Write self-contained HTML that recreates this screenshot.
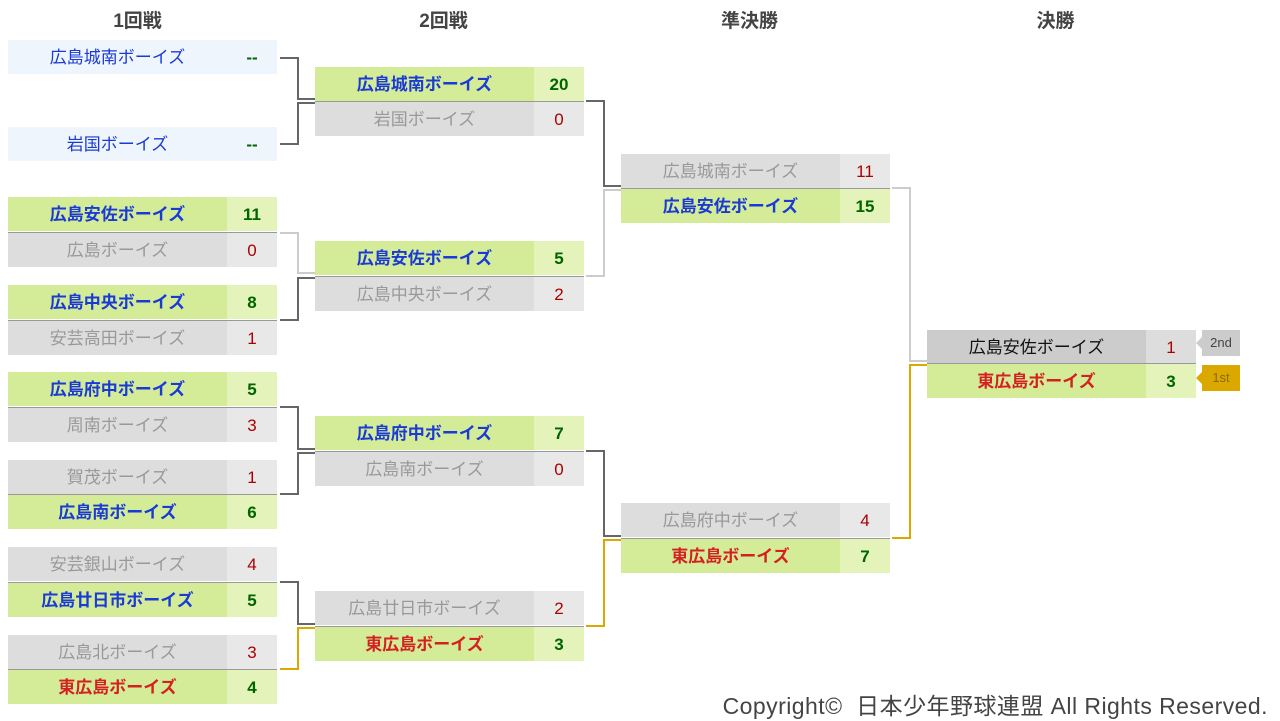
<!DOCTYPE html>
<html><head><meta charset="utf-8"><style>
body{margin:0;width:1280px;height:720px;background:#fff;position:relative;overflow:hidden;font-family:"Liberation Sans","Noto Sans CJK JP",sans-serif}
.r{position:absolute;height:34px;width:269px;display:flex;font-size:17px;line-height:36px}
.r .n{width:219px;text-align:center}
.r .s{width:50px;text-align:center}
.w .n{background:#d4ec98;color:#1a3ad6;font-weight:bold}
.w .s{background:#e3f3b9;color:#006400;font-weight:bold}
.l .n{background:#ddd;color:#999}
.l .s{background:#e8e8e8;color:#a00}
.b .n{background:#eef5fd;color:#1a3ad6}
.b .s{background:#eef5fd;color:#006400;font-weight:bold}
.red .n{color:#d42020}
.sep{border-top:1px solid #999}
h3{position:absolute;top:6px;margin:0;font-size:19px;color:#444;width:269px;text-align:center}
.badge{position:absolute;font-size:13px;text-align:center;line-height:26px}
</style></head><body>
<h3 style="left:3px">1回戦</h3><h3 style="left:309px">2回戦</h3><h3 style="left:615px">準決勝</h3><h3 style="left:921px">決勝</h3>

<div class="r b" style="left:8px;top:40px"><div class="n">広島城南ボーイズ</div><div class="s">--</div></div>
<div class="r b" style="left:8px;top:127px"><div class="n">岩国ボーイズ</div><div class="s">--</div></div>
<div class="r w" style="left:8px;top:197px"><div class="n">広島安佐ボーイズ</div><div class="s">11</div></div>
<div class="r l sep" style="left:8px;top:232px"><div class="n">広島ボーイズ</div><div class="s">0</div></div>
<div class="r w" style="left:8px;top:285px"><div class="n">広島中央ボーイズ</div><div class="s">8</div></div>
<div class="r l sep" style="left:8px;top:320px"><div class="n">安芸高田ボーイズ</div><div class="s">1</div></div>
<div class="r w" style="left:8px;top:372px"><div class="n">広島府中ボーイズ</div><div class="s">5</div></div>
<div class="r l sep" style="left:8px;top:407px"><div class="n">周南ボーイズ</div><div class="s">3</div></div>
<div class="r l" style="left:8px;top:460px"><div class="n">賀茂ボーイズ</div><div class="s">1</div></div>
<div class="r w sep" style="left:8px;top:494px"><div class="n">広島南ボーイズ</div><div class="s">6</div></div>
<div class="r l" style="left:8px;top:547px"><div class="n">安芸銀山ボーイズ</div><div class="s">4</div></div>
<div class="r w sep" style="left:8px;top:582px"><div class="n">広島廿日市ボーイズ</div><div class="s">5</div></div>
<div class="r l" style="left:8px;top:635px"><div class="n">広島北ボーイズ</div><div class="s">3</div></div>
<div class="r w red sep" style="left:8px;top:669px"><div class="n">東広島ボーイズ</div><div class="s">4</div></div>

<div class="r w" style="left:315px;top:67px"><div class="n">広島城南ボーイズ</div><div class="s">20</div></div>
<div class="r l sep" style="left:315px;top:101px"><div class="n">岩国ボーイズ</div><div class="s">0</div></div>
<div class="r w" style="left:315px;top:241px"><div class="n">広島安佐ボーイズ</div><div class="s">5</div></div>
<div class="r l sep" style="left:315px;top:276px"><div class="n">広島中央ボーイズ</div><div class="s">2</div></div>
<div class="r w" style="left:315px;top:416px"><div class="n">広島府中ボーイズ</div><div class="s">7</div></div>
<div class="r l sep" style="left:315px;top:451px"><div class="n">広島南ボーイズ</div><div class="s">0</div></div>
<div class="r l" style="left:315px;top:591px"><div class="n">広島廿日市ボーイズ</div><div class="s">2</div></div>
<div class="r w red sep" style="left:315px;top:626px"><div class="n">東広島ボーイズ</div><div class="s">3</div></div>

<div class="r l" style="left:621px;top:154px"><div class="n">広島城南ボーイズ</div><div class="s">11</div></div>
<div class="r w sep" style="left:621px;top:188px"><div class="n">広島安佐ボーイズ</div><div class="s">15</div></div>
<div class="r l" style="left:621px;top:503px"><div class="n">広島府中ボーイズ</div><div class="s">4</div></div>
<div class="r w red sep" style="left:621px;top:538px"><div class="n">東広島ボーイズ</div><div class="s">7</div></div>

<div class="r" style="left:927px;top:330px"><div class="n" style="background:#ccc;color:#111">広島安佐ボーイズ</div><div class="s" style="background:#ddd;color:#a00">1</div></div>
<div class="r w red sep" style="left:927px;top:363px"><div class="n">東広島ボーイズ</div><div class="s">3</div></div>

<svg width="1280" height="720" style="position:absolute;left:0;top:0" fill="none" stroke-width="2">
<g stroke="#666">
<path d="M280 58H298V99H315M280 144H298V103H315"/>
<path d="M280 320H298V278H315"/>
<path d="M280 407H298V449H315M280 494H298V453H315"/>
<path d="M280 582H298V624H315"/>
<path d="M586 101H604V186H621"/>
<path d="M586 451H604V536H621"/>
</g>
<g stroke="#ccc">
<path d="M280 233H298V273H315"/>
<path d="M586 276H604V190H621"/>
<path d="M892 188H910V361H927"/>
</g>
<g stroke="#dba800">
<path d="M280 669H298V628H315"/>
<path d="M586 626H604V540H621"/>
<path d="M892 538H910V365H927"/>
</g>
</svg>
<div class="badge" style="left:1202px;top:330px;width:38px;height:26px;background:#ccc;color:#444">2nd</div>
<div style="position:absolute;left:1196px;top:337px;border-right:6px solid #ccc;border-top:6px solid transparent;border-bottom:6px solid transparent"></div>
<div class="badge" style="left:1202px;top:365px;width:38px;height:26px;background:#dba800;color:#8a6a00">1st</div>
<div style="position:absolute;left:1196px;top:372px;border-right:6px solid #dba800;border-top:6px solid transparent;border-bottom:6px solid transparent"></div>

<div style="position:absolute;right:12px;top:687px;font-size:23px;letter-spacing:0.45px;color:#444;white-space:nowrap">Copyright©&nbsp; 日本少年野球連盟 All Rights Reserved.</div>
</body></html>
